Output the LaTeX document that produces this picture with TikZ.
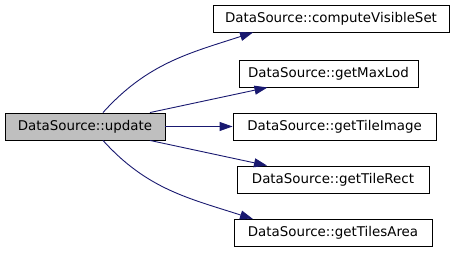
\documentclass[tikz,border=0pt]{standalone}
\usepackage{fontspec}
\setmainfont{DejaVu Sans}
\usetikzlibrary{arrows.meta,positioning}
\definecolor{edgeblue}{HTML}{191970}
\definecolor{callergray}{HTML}{BFBFBF}

\begin{document}
\begin{tikzpicture}[x=1pt,y=1pt,
		fn/.style={draw=black, fill=white, line width=0.9pt, minimum height=27pt, inner sep=0pt, font=\fontsize{13.4}{16}\selectfont},
		call/.style={draw=edgeblue, line width=0.9pt, -{Triangle[length=13pt,width=9pt,fill=edgeblue]}}]
			\useasboundingbox (0,0) rectangle (459,253);
			
			% Caller
			\node[fn, fill=callergray, minimum width=160pt] (update) at (85,126.5) {DataSource::update};
			
			% Callees
			\node[fn, minimum width=236pt] (cvs) at (331,234.5) {DataSource::computeVisibleSet};
			\node[fn, minimum width=179pt] (maxlod) at (328.5,179.5) {DataSource::getMaxLod};
			\node[fn, minimum width=203pt] (tileimage) at (334.5,126.5) {DataSource::getTileImage};
			\node[fn, minimum width=192pt] (tilerect) at (333,73.5) {DataSource::getTileRect};
			\node[fn, minimum width=198pt] (tilesarea) at (333,20) {DataSource::getTilesArea};
			
			% Calls
			\draw[call] ([xshift=18pt]update.north) to[out=48, in=198] ([xshift=-78pt]cvs.south);
			\draw[call] ([xshift=65pt]update.north) -- ([xshift=-61pt]maxlod.south);
			\draw[call] (update.east) -- (tileimage.west);
			\draw[call] ([xshift=65pt]update.south) -- ([xshift=-66pt]tilerect.north);
			\draw[call] ([xshift=18pt]update.south) to[out=-48, in=162] ([xshift=-80pt]tilesarea.north);
		\end{tikzpicture}
\end{document}
